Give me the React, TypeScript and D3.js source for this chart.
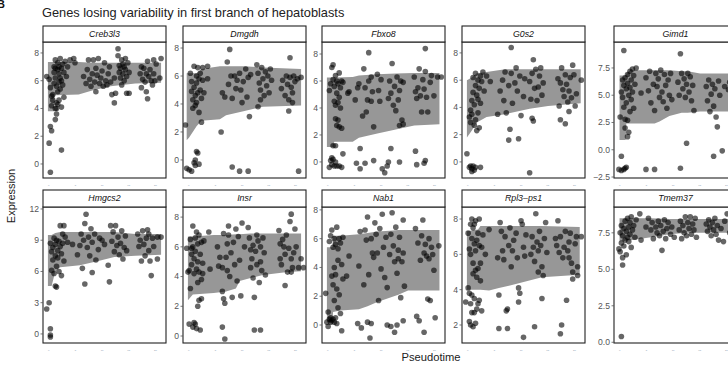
import * as d3 from "d3"

type Pt = [number, number];
type Band = [number, number, number]; // x, lower, upper

const TITLE = "Genes losing variability in first branch of hepatoblasts";
const GENES = ["Creb3l3", "Dmgdh", "Fbxo8", "G0s2", "Gimd1", "Hmgcs2", "Insr", "Nab1", "Rpl3\u2013ps1", "Tmem37"];

// y-domain of every facet (free scales)
const Y_DOMAINS: [number, number][] = [
  [-1.01, 8.79], [-1.29, 8.43], [-1.19, 8.89], [-1.18, 8.8], [-2.59, 9.88],
  [-0.87, 12.19], [-0.47, 8.68], [-1.25, 8.2], [0.98, 8.68], [-0.05, 9.27],
];
const Y_TICKS: number[][] = [
  [0, 2, 4, 6, 8], [0, 2, 4, 6, 8], [0, 2, 4, 6, 8], [0, 2, 4, 6, 8], [-2.5, 0, 2.5, 5, 7.5],
  [0, 3, 6, 9, 12], [0, 2, 4, 6, 8], [0, 2, 4, 6, 8], [2, 4, 6, 8], [0, 2.5, 5, 7.5],
];
const X_TICKS = [0.46, 2.63, 4.8, 6.97, 9.14];
const X_TICK_LABELS = ["0", "5", "10", "15", "20"];

// ribbons (pseudotime, lower, upper)
const creb3l3Band: Band[] = [[0.4, 3.8, 7.35], [0.9, 3.8, 7.35], [0.95, 4.95, 7.35], [2.9, 5.0, 7.35], [4.0, 5.3, 7.3], [5.5, 5.6, 7.3], [7.5, 5.8, 7.3], [9.6, 5.85, 7.3]];
const dmgdhBand: Band[] = [[0.3, 1.4, 6.2], [0.5, 1.6, 6.2], [1.1, 2.4, 6.2], [1.5, 2.8, 6.5], [3.0, 2.9, 6.7], [3.5, 3.2, 6.7], [5.0, 3.5, 6.7], [6.5, 3.8, 6.6], [9.6, 3.9, 6.5]];
const fbxo8Band: Band[] = [[0.4, 1.1, 6.25], [0.9, 1.1, 6.25], [1.0, 1.5, 6.25], [2.5, 1.5, 6.3], [3.0, 1.8, 6.4], [4.5, 2.1, 6.5], [6.0, 2.4, 6.55], [7.5, 2.7, 6.6], [9.55, 2.8, 6.6]];
const g0s2Band: Band[] = [[0.4, 1.8, 6.0], [0.8, 2.3, 6.2], [1.2, 2.9, 6.5], [2.0, 3.3, 6.6], [3.5, 3.5, 6.8], [5.5, 3.9, 6.8], [7.0, 4.1, 6.8], [9.65, 4.3, 6.8]];
const gimd1Band: Band[] = [[0.45, 0.9, 6.8], [0.95, 0.9, 6.8], [1.0, 2.4, 7.0], [1.3, 2.4, 7.3], [3.3, 2.4, 7.3], [3.7, 2.6, 7.3], [4.5, 3.1, 7.3], [5.5, 3.4, 7.2], [6.0, 3.4, 7.2], [7.0, 3.5, 7.0], [9.6, 3.5, 7.0]];
const hmgcs2Band: Band[] = [[0.4, 4.6, 9.5], [0.7, 4.6, 9.5], [1.0, 6.0, 9.7], [1.4, 6.4, 9.8], [3.0, 6.6, 9.8], [4.5, 7.0, 9.8], [5.8, 7.4, 9.8], [7.5, 7.5, 9.6], [9.6, 7.6, 9.6]];
const insrBand: Band[] = [[0.4, 2.4, 6.7], [0.8, 2.8, 6.7], [2.5, 2.9, 6.8], [3.5, 3.0, 6.8], [4.3, 3.2, 6.85], [4.6, 3.7, 6.85], [5.5, 3.9, 6.9], [6.5, 4.1, 6.9], [8.5, 4.3, 6.9], [9.6, 4.35, 6.9]];
const nab1Band: Band[] = [[0.4, 0.2, 5.4], [0.85, 0.2, 5.4], [0.9, 0.9, 6.2], [1.5, 1.0, 6.2], [3.0, 1.1, 6.3], [3.7, 1.3, 6.4], [4.5, 1.6, 6.5], [5.5, 1.9, 6.55], [6.2, 2.1, 6.6], [7.0, 2.4, 6.6], [9.55, 2.4, 6.6]];
const rpl3Band: Band[] = [[0.4, 4.0, 7.3], [1.3, 4.0, 7.4], [1.5, 4.0, 7.6], [2.2, 3.95, 7.6], [3.0, 4.1, 7.6], [4.3, 4.3, 7.6], [5.4, 4.5, 7.6], [6.5, 4.7, 7.6], [9.57, 4.85, 7.55]];
const tmem37Band: Band[] = [[0.45, 6.9, 8.5], [1.5, 7.0, 8.5], [3.0, 7.2, 8.5], [4.5, 7.4, 8.45], [6.0, 7.5, 8.45], [9.6, 7.5, 8.45]];

// cells (pseudotime, expression)
const creb3l3Pts: Pt[] = [
  [0.3, 6.3], [0.5, 6.1], [0.6, 5.5], [0.7, 4.9], [0.7, 4.2], [0.8, 4.6], [0.8, 5.0], [0.9, 5.8], [0.9, 6.6], [0.9, 7.0], [1.0, 7.5], [1.0, 6.9], [1.0, 6.2], [1.1, 5.6], [1.1, 4.4], [1.1, 4.0], [1.2, 7.3], [1.2, 6.8], [1.2, 5.2], [1.2, 4.3], [1.3, 7.0], [1.3, 6.5], [1.3, 5.9], [1.3, 4.6], [1.4, 7.6], [1.4, 6.2], [1.4, 5.4], [1.5, 6.9], [1.5, 6.0], [1.5, 4.1], [1.6, 7.2], [1.6, 5.7], [1.7, 6.6], [1.7, 4.8], [1.8, 7.4], [1.9, 6.3], [2.0, 7.0], [2.2, 7.5], [2.5, 7.6], [2.6, 7.3],
  [0.5, 1.5], [0.6, 2.7], [0.7, 2.4], [1.0, 3.2], [1.1, 3.6], [1.0, 4.0], [1.5, 1.0], [0.6, -0.6],
  [3.3, 6.3], [3.5, 5.8], [3.6, 6.8], [3.7, 7.5], [3.8, 6.1], [3.9, 5.6], [4.0, 6.5], [4.1, 7.5], [4.2, 5.9], [4.3, 6.9], [4.3, 5.2], [4.4, 6.4], [4.5, 7.6], [4.6, 5.8], [4.7, 6.2], [4.8, 6.7], [4.9, 5.6], [5.0, 7.3], [5.1, 6.0], [5.2, 5.7], [5.3, 6.5], [5.4, 7.0], [5.5, 5.9], [5.6, 5.0], [5.8, 4.4], [5.8, 6.2], [5.9, 5.1],
  [6.1, 8.3], [6.1, 7.8], [6.2, 7.1], [6.2, 6.6], [6.3, 6.9], [6.3, 6.2], [6.4, 7.5], [6.4, 5.7], [6.5, 7.2], [6.5, 6.5], [6.6, 7.0], [6.6, 6.0], [6.7, 7.6], [6.7, 6.8], [6.8, 6.3], [6.8, 5.1], [6.9, 7.3], [7.0, 6.6], [7.0, 5.1],
  [7.9, 6.5], [8.0, 5.5], [8.0, 7.0], [8.1, 6.1], [8.2, 6.9], [8.3, 5.9], [8.4, 6.5], [8.5, 7.4], [8.5, 4.7], [8.6, 6.3], [8.7, 6.8], [8.8, 6.0], [8.9, 5.7], [9.0, 7.5], [9.0, 6.5], [9.2, 7.2], [9.5, 6.2], [9.6, 7.6], [9.1, 6.0], [8.4, 5.2],
];
const dmgdhPts: Pt[] = [
  [0.3, -0.6], [0.5, -0.7], [0.7, -0.8], [0.9, -0.2], [1.0, -0.4], [1.1, 0.6], [1.2, 0.5], [1.0, 0.0], [1.3, -0.3],
  [0.2, 2.5], [3.1, 2.0], [3.8, 7.9], [4.0, -0.5], [4.6, -0.8], [5.3, -0.8], [5.4, 3.1], [9.4, -0.8], [8.7, 7.3], [6.1, 3.8], [8.6, 3.5],
  [0.6, 6.2], [0.7, 5.6], [0.7, 4.9], [0.8, 4.3], [0.8, 3.7], [0.9, 6.7], [0.9, 5.2], [1.0, 4.6], [1.0, 3.9], [1.1, 6.0], [1.1, 5.5], [1.1, 4.1], [1.2, 6.6], [1.2, 4.8], [1.3, 5.8], [1.3, 3.4], [1.4, 6.2], [1.4, 5.0], [1.5, 4.4], [1.5, 2.7], [1.6, 5.7], [1.6, 6.6], [1.7, 4.8], [2.0, 5.8], [2.0, 6.7],
  [3.2, 4.8], [3.4, 4.5], [3.6, 7.0], [3.7, 5.4], [3.9, 6.0], [4.0, 4.4], [4.2, 6.0], [4.3, 5.1], [4.4, 5.7], [4.6, 6.2], [4.7, 5.0], [4.8, 4.1], [4.9, 5.6], [5.1, 6.5], [5.2, 4.5], [5.3, 5.9], [5.5, 6.1],
  [6.0, 6.8], [6.1, 6.2], [6.2, 5.5], [6.3, 5.0], [6.3, 4.3], [6.4, 6.6], [6.5, 5.8], [6.6, 4.6], [6.7, 6.3], [6.8, 5.3], [6.9, 6.0], [7.0, 4.8], [7.1, 6.5], [7.2, 5.7],
  [8.0, 5.1], [8.1, 5.7], [8.3, 4.6], [8.4, 6.0], [8.5, 5.4], [8.6, 4.3], [8.7, 5.9], [8.8, 5.2], [8.9, 4.8], [9.0, 6.0], [9.1, 5.6], [9.3, 5.8], [9.6, 5.9], [8.9, 4.1],
];
const fbxo8Pts: Pt[] = [
  [0.6, 5.3], [0.7, 5.8], [0.8, 7.0], [0.9, 7.2], [0.9, 6.1], [1.0, 5.6], [1.0, 4.5], [1.1, 6.4], [1.1, 4.2], [1.1, 3.2], [1.2, 6.0], [1.2, 5.1], [1.2, 2.7], [1.3, 5.8], [1.3, 4.4], [1.3, 3.1], [1.4, 6.6], [1.4, 4.8], [1.4, 2.6], [1.5, 5.5], [1.5, 4.0], [1.6, 6.0], [1.6, 2.5], [1.7, 5.9], [0.9, 1.2], [1.1, 1.2], [1.7, 0.6],
  [0.6, -0.4], [0.7, 0.1], [0.8, -0.2], [0.9, 0.2], [1.0, -0.3], [1.1, 0.0], [1.2, -0.3], [1.4, -0.3], [1.6, -0.4], [0.8, 0.3],
  [2.1, 5.1], [2.2, 5.2], [2.7, 4.6], [2.9, 5.5], [3.1, 1.0], [2.8, -0.1], [3.1, -0.5], [3.5, -0.1],
  [3.0, 5.8], [3.3, 3.4], [3.4, 6.9], [3.5, 5.5], [3.6, 3.7], [3.7, 4.6], [3.8, 6.0], [3.8, 8.1], [4.0, 4.5], [4.0, 6.3], [4.1, 5.2], [4.2, 2.6], [4.2, 0.1], [4.5, 6.5], [4.6, 5.3], [4.7, 4.5], [4.8, 6.1], [4.9, -0.5], [5.1, -0.8], [5.3, -0.3],
  [5.4, 4.7], [5.5, 6.0], [5.6, 5.1], [5.7, 7.3], [5.8, 4.2], [5.9, 5.6], [6.0, 3.8], [6.1, 6.3], [6.2, 4.6], [6.3, 5.3], [6.3, 2.7], [6.4, 6.0], [6.5, 3.1], [6.6, 5.9], [6.6, 2.8], [5.6, 1.0], [5.4, 0.0], [6.3, 0.0],
  [7.5, 6.3], [7.6, 5.2], [7.7, 4.7], [7.8, 5.5], [7.9, 6.9], [8.0, 4.9], [8.1, 3.7], [8.2, 6.1], [8.3, 5.4], [8.4, 8.4], [8.4, 6.7], [8.5, 4.8], [8.6, 3.7], [8.8, 5.9], [8.9, 6.4], [9.1, 4.9], [9.4, 6.3], [9.7, 6.3], [7.6, 0.8], [7.7, -0.2], [8.3, -0.1], [8.4, 0.1],
];
const g0s2Pts: Pt[] = [
  [0.4, 0.6], [0.6, -0.4], [0.7, -0.3], [0.8, -0.5], [0.8, -0.7], [0.9, -0.3], [1.0, -0.6], [1.1, -0.4], [1.5, -0.4],
  [0.6, 3.3], [0.7, 3.8], [0.7, 2.9], [0.8, 4.5], [0.8, 3.5], [0.9, 6.2], [0.9, 5.1], [1.0, 4.2], [1.0, 2.7], [1.1, 6.5], [1.1, 5.6], [1.1, 3.1], [1.2, 4.9], [1.2, 2.3], [1.3, 6.0], [1.3, 4.6], [1.3, 3.6], [1.4, 5.4], [1.4, 2.5], [1.5, 6.3], [1.5, 4.3], [1.6, 5.9], [1.7, 6.6], [1.8, 5.2], [2.0, 6.3], [2.3, 5.9],
  [2.9, 3.5], [3.1, 5.2], [3.3, 6.0], [3.4, 4.5], [3.5, 6.6], [3.6, 3.6], [3.8, 5.6], [3.8, 1.6], [3.9, 2.4], [4.0, 6.5], [4.0, 8.4], [4.1, 4.3], [4.3, 5.8], [4.4, 6.9], [4.5, 5.2], [4.6, 1.7], [4.7, 6.3], [4.8, 3.4], [5.0, 4.8], [5.1, 6.1],
  [5.5, 5.9], [5.6, 4.6], [5.7, 6.5], [5.8, 3.0], [5.8, 7.5], [5.9, 5.4], [6.0, 6.8], [6.1, 4.5], [6.2, 5.5], [6.3, 6.3], [6.4, 6.9], [6.5, 4.9], [6.6, 5.8], [5.5, -0.8], [5.7, 3.2],
  [7.8, 6.1], [7.9, 4.1], [8.0, 5.8], [8.0, 3.1], [8.1, 6.9], [8.2, 5.3], [8.3, 4.8], [8.4, 6.4], [8.4, 2.8], [8.5, 5.7], [8.6, 4.4], [8.7, 5.2], [8.8, 6.2], [8.9, 4.7], [9.0, 7.1], [9.1, 6.4], [9.2, 4.1], [9.3, 5.0], [9.7, 6.0], [8.7, 3.7],
];
const gimd1Pts: Pt[] = [
  [0.5, 3.0], [0.6, 5.3], [0.7, 6.4], [0.7, 4.8], [0.8, 5.9], [0.8, 3.9], [0.9, 6.6], [0.9, 2.8], [0.9, 2.0], [1.0, 5.6], [1.0, 4.3], [1.1, 6.9], [1.1, 6.1], [1.1, 2.7], [1.2, 5.0], [1.2, 1.6], [1.3, 7.2], [1.3, 5.7], [1.3, 3.5], [1.4, 6.4], [1.4, 4.6], [1.5, 7.4], [1.5, 5.3], [1.6, 6.8], [1.6, 3.8], [1.7, 6.0], [1.8, 7.5], [1.1, 1.2],
  [0.6, -0.6], [0.4, -1.8], [0.6, -1.9], [0.8, -1.8], [0.9, -1.7], [1.0, -1.6], [0.8, 9.1], [2.2, 5.2],
  [2.6, 6.6], [2.8, 5.4], [2.9, 7.2], [3.0, 4.3], [3.2, 6.0], [3.3, 3.6], [3.4, 7.0], [3.5, 5.8], [3.6, 6.5], [3.7, 4.8], [3.8, 7.3], [3.9, 5.3], [4.0, 4.4], [4.1, 6.9], [4.2, 5.9], [4.3, 3.8], [4.4, 6.4], [4.5, 5.0], [4.6, 7.0], [4.7, 4.6], [2.6, -1.8], [3.3, -1.8],
  [5.2, 6.2], [5.3, 5.0], [5.4, 8.8], [5.5, 7.0], [5.6, 5.6], [5.7, 6.5], [5.8, 4.8], [5.9, 6.0], [6.0, 7.0], [6.1, 5.3], [6.2, 6.7], [6.3, 4.5], [6.4, 5.9], [6.5, 3.6], [5.9, 0.6], [5.4, -1.7],
  [7.5, 5.8], [7.6, 4.5], [7.7, 6.4], [7.8, 3.5], [7.9, 5.1], [8.0, 6.0], [8.1, 4.0], [8.2, 5.6], [8.3, 3.0], [8.4, 2.1], [8.5, 6.3], [8.6, 5.0], [8.1, -0.6], [8.8, -0.1], [9.0, 5.8], [9.3, 5.5], [9.5, 4.5], [9.7, -0.2], [9.4, 6.2], [9.8, 3.3],
];
const hmgcs2Pts: Pt[] = [
  [0.3, 2.4], [0.5, 3.0], [0.6, 0.5], [0.6, -0.1], [0.6, -0.3], [0.6, 8.7], [0.7, 7.9], [0.7, 6.1], [0.8, 8.3], [0.8, 7.1], [0.9, 9.2], [0.9, 5.8], [1.0, 8.6], [1.0, 7.5], [1.0, 4.6], [1.1, 9.0], [1.1, 6.5], [1.1, 4.5], [1.2, 8.0], [1.2, 7.3], [1.3, 8.9], [1.3, 6.0], [1.4, 10.4], [1.4, 8.4], [1.5, 7.7], [1.5, 5.6], [1.6, 9.6], [1.6, 8.7], [1.7, 10.4], [1.7, 7.0], [1.8, 9.3], [2.0, 8.8], [2.4, 8.6],
  [2.8, 7.6], [3.0, 8.5], [3.1, 9.6], [3.2, 6.3], [3.3, 9.0], [3.4, 4.8], [3.4, 10.6], [3.5, 11.5], [3.6, 8.3], [3.7, 9.3], [3.8, 7.5], [3.9, 10.1], [4.0, 8.8], [4.0, 5.9], [4.2, 9.6], [4.3, 7.1], [4.5, 8.1], [4.6, 9.2], [4.8, 9.0], [5.0, 8.6],
  [5.3, 6.6], [5.4, 5.0], [5.5, 10.4], [5.6, 8.9], [5.7, 9.8], [5.8, 7.9], [5.9, 10.4], [6.0, 8.5], [6.1, 9.3], [6.2, 7.6], [6.3, 8.7], [6.4, 9.9], [6.5, 7.2], [6.6, 8.3], [6.7, 9.4], [6.8, 8.0],
  [7.7, 9.6], [7.8, 8.4], [7.9, 9.0], [8.0, 7.0], [8.1, 9.9], [8.2, 8.6], [8.3, 7.5], [8.4, 9.2], [8.5, 10.0], [8.6, 8.0], [8.7, 7.0], [8.8, 5.6], [8.9, 9.2], [9.0, 8.4], [9.3, 9.3], [9.3, 7.2], [9.6, 9.3], [8.6, 9.6],
];
const insrPts: Pt[] = [
  [0.3, 5.9], [0.5, 4.4], [0.5, 0.8], [0.6, 3.2], [0.6, 6.5], [0.7, 5.5], [0.7, 4.8], [0.8, 7.4], [0.8, 6.0], [0.8, 0.6], [0.9, 5.2], [0.9, 4.2], [0.9, 0.9], [1.0, 6.6], [1.0, 5.7], [1.0, 0.8], [1.1, 7.0], [1.1, 4.5], [1.1, 0.5], [1.2, 6.2], [1.2, 5.0], [1.2, 2.0], [1.3, 6.8], [1.3, 4.3], [1.3, 2.4], [1.4, 5.5], [1.4, 0.4], [1.5, 6.3], [1.5, 3.8], [1.5, 2.5], [1.6, 4.9], [1.7, 6.4], [1.2, 3.6], [1.6, 4.2], [2.1, 7.0], [2.2, 4.5], [0.4, 4.3], [0.7, 5.9],
  [2.8, 6.0], [2.9, 4.7], [3.0, 5.3], [3.2, 3.0], [3.2, 4.6], [3.3, 6.9], [3.3, 2.5], [3.4, 2.2], [3.5, 5.3], [3.6, 4.4], [3.6, 6.2], [3.7, 7.4], [3.7, 6.8], [3.8, 4.0], [3.9, 5.6], [4.0, 2.6], [4.1, 6.3], [4.2, 4.8], [4.3, 7.2], [4.4, 3.7], [4.5, 6.7], [4.6, 5.1], [4.7, 2.7], [4.8, 7.6], [5.0, 6.0], [3.2, 0.6], [3.4, -0.2],
  [5.3, 7.3], [5.4, 6.6], [5.5, 5.8], [5.5, 4.6], [5.6, 5.2], [5.7, 6.1], [5.7, 3.9], [5.8, 2.6], [5.9, 5.7], [6.0, 4.8], [6.0, 6.8], [6.1, 6.4], [6.2, 3.6], [6.3, 5.0], [6.3, 6.0], [6.4, 4.4], [6.5, 6.6], [6.6, 5.6], [6.7, 4.1], [5.8, 0.4], [6.3, 0.4],
  [7.8, 7.1], [7.9, 6.2], [7.9, 5.2], [8.0, 4.8], [8.1, 6.5], [8.2, 6.0], [8.3, 3.4], [8.3, 5.5], [8.4, 6.8], [8.5, 4.3], [8.6, 5.9], [8.7, 7.7], [8.8, 8.2], [8.8, 5.2], [8.9, 4.6], [9.0, 5.6], [9.1, 7.2], [9.2, 6.0], [9.4, 4.6], [9.6, 5.2], [9.8, 4.6], [8.8, 4.3],
];
const nab1Pts: Pt[] = [
  [0.3, 2.2], [0.4, 0.2], [0.5, 0.9], [0.5, -0.1], [0.6, 0.4], [0.6, 5.8], [0.7, 0.2], [0.7, 6.2], [0.7, 0.5], [0.8, 3.4], [0.8, 0.3], [0.8, 6.6], [0.9, 5.4], [0.9, 0.4], [0.9, 2.8], [1.0, 6.0], [1.0, 4.0], [1.0, 0.2], [1.1, 5.6], [1.1, 3.5], [1.1, 0.5], [1.2, 6.8], [1.2, 2.5], [1.2, 0.1], [1.3, 5.3], [1.3, 4.5], [1.3, 1.2], [1.4, 6.0], [1.4, 2.1], [1.5, 0.8], [1.5, 5.7], [1.6, 4.2], [1.6, -0.4], [1.7, 6.1], [1.7, 3.2], [2.0, 3.4], [2.2, 4.8], [1.0, 1.7],
  [2.9, 0.1], [3.0, 4.1], [3.1, 6.5], [3.2, -0.2], [3.4, 2.8], [3.5, 6.6], [3.6, 5.9], [3.7, 7.5], [3.7, 0.2], [3.8, 3.5], [3.9, -0.9], [4.0, 6.0], [4.0, 0.1], [4.1, 5.0], [4.2, 4.7], [4.3, 7.1], [4.4, 6.3], [4.5, 5.0], [4.6, 1.7], [4.7, 6.7], [4.8, 3.9], [4.9, 7.7], [5.0, 5.4], [5.1, 3.3], [5.2, 6.1], [5.3, 2.6], [5.3, 0.0],
  [5.5, 4.9], [5.6, 6.3], [5.6, -0.1], [5.7, 7.8], [5.8, 5.5], [5.9, 4.4], [5.9, -0.5], [6.0, 6.8], [6.1, 3.6], [6.1, 0.0], [6.2, 5.2], [6.3, 6.1], [6.4, 1.9], [6.5, 4.4], [6.6, 7.3], [6.6, 5.0], [6.7, 2.7], [6.6, 0.3], [6.2, 4.6],
  [7.6, 6.7], [7.7, 0.6], [7.8, 5.7], [7.9, 0.3], [8.0, 4.5], [8.1, 6.2], [8.2, 7.3], [8.3, -0.5], [8.4, 5.6], [8.5, 4.8], [8.6, 1.8], [8.7, 6.0], [8.8, 1.7], [8.9, 5.4], [9.0, 4.9], [9.1, 3.8], [9.2, 0.5], [9.5, 5.5], [8.3, 5.0], [8.7, 4.6],
];
const rpl3Pts: Pt[] = [
  [0.3, 3.3], [0.5, 7.2], [0.5, 4.1], [0.6, 6.3], [0.6, 3.8], [0.6, 2.2], [0.7, 7.7], [0.7, 6.0], [0.7, 3.2], [0.7, 2.0], [0.8, 8.0], [0.8, 6.9], [0.8, 3.7], [0.8, 2.7], [0.9, 7.5], [0.9, 5.5], [0.9, 4.9], [0.9, 1.9], [1.0, 7.7], [1.0, 6.6], [1.0, 3.5], [1.0, 2.7], [1.1, 7.9], [1.1, 6.2], [1.1, 5.1], [1.1, 2.1], [1.2, 6.8], [1.2, 4.7], [1.2, 2.9], [1.3, 7.2], [1.3, 5.2], [1.3, 3.2], [1.4, 8.0], [1.4, 6.5], [1.4, 3.4], [1.5, 5.5], [1.5, 4.5], [1.6, 6.4], [1.6, 2.8], [1.7, 7.1], [1.9, 6.0], [2.2, 7.4],
  [2.9, 5.8], [3.0, 3.7], [3.0, 1.8], [3.1, 7.8], [3.2, 7.3], [3.3, 6.2], [3.4, 5.7], [3.5, 7.0], [3.6, 2.8], [3.7, 2.9], [3.7, 1.8], [3.8, 6.5], [3.9, 7.5], [4.0, 5.3], [4.1, 6.2], [4.2, 6.8], [4.4, 7.2], [4.5, 5.8], [4.6, 4.1], [4.6, 3.3], [4.7, 3.8], [4.8, 7.9], [4.9, 7.7], [5.0, 6.4], [5.0, 1.3], [5.1, 5.9], [5.2, 7.1],
  [5.6, 6.0], [5.7, 7.0], [5.8, 6.4], [5.9, 5.6], [5.9, 1.9], [6.0, 8.3], [6.1, 6.7], [6.2, 6.2], [6.2, 5.0], [6.3, 7.3], [6.4, 6.5], [6.5, 5.3], [6.5, 3.5], [6.6, 4.8], [6.7, 6.9], [6.8, 7.8], [6.9, 6.1],
  [7.6, 6.9], [7.7, 6.5], [7.8, 7.9], [7.9, 6.1], [8.0, 1.5], [8.0, 7.0], [8.1, 2.0], [8.2, 5.8], [8.3, 6.4], [8.4, 7.3], [8.5, 3.4], [8.6, 6.2], [8.7, 5.8], [8.8, 7.2], [8.9, 5.5], [9.0, 5.0], [9.0, 4.6], [9.2, 6.6], [9.3, 7.0], [9.4, 5.3], [9.4, 4.8], [9.7, 7.0], [8.7, 6.7],
];
const tmem37Pts: Pt[] = [
  [0.4, 6.4], [0.5, 6.2], [0.5, 7.5], [0.6, 6.8], [0.6, 8.0], [0.7, 7.3], [0.7, 5.8], [0.7, 5.3], [0.8, 7.8], [0.8, 6.6], [0.9, 8.3], [0.9, 7.0], [1.0, 7.6], [1.0, 6.0], [1.1, 8.5], [1.1, 7.2], [1.2, 7.9], [1.2, 6.9], [1.3, 8.2], [1.3, 7.4], [1.4, 8.6], [1.4, 6.5], [1.5, 7.7], [1.6, 8.0], [1.7, 7.2], [1.8, 8.4], [0.6, 0.4],
  [2.1, 8.8], [2.2, 7.0], [2.6, 7.9], [2.8, 8.5], [3.0, 7.7], [3.1, 8.2], [3.2, 7.1], [3.4, 7.9], [3.5, 7.5], [3.6, 8.3], [3.7, 7.3], [3.8, 8.0], [3.9, 6.3], [4.0, 7.6], [4.1, 8.4], [4.2, 7.1], [4.3, 7.8], [4.4, 8.2], [4.6, 7.4], [4.7, 7.9], [4.9, 7.2],
  [5.3, 7.7], [5.4, 8.3], [5.5, 7.1], [5.6, 8.0], [5.7, 7.5], [5.8, 8.6], [5.9, 7.3], [6.0, 8.2], [6.1, 7.8], [6.2, 8.6], [6.3, 7.4], [6.4, 8.1], [6.5, 7.7], [6.6, 8.5], [6.7, 7.2],
  [7.5, 8.1], [7.6, 7.6], [7.7, 8.4], [7.8, 7.9], [7.9, 7.3], [8.0, 8.2], [8.1, 7.7], [8.2, 8.5], [8.3, 7.4], [8.4, 8.0], [8.5, 7.0], [8.7, 7.8], [8.9, 6.9], [9.2, 8.8], [9.0, 8.3], [9.4, 7.5],
];

const BANDS = [creb3l3Band, dmgdhBand, fbxo8Band, g0s2Band, gimd1Band, hmgcs2Band, insrBand, nab1Band, rpl3Band, tmem37Band];
const POINTS = [creb3l3Pts, dmgdhPts, fbxo8Pts, g0s2Pts, gimd1Pts, hmgcs2Pts, insrPts, nab1Pts, rpl3Pts, tmem37Pts];

const W = 728, H = 365;
const COL_LEFT = [43, 183, 322, 462, 614];
const PANEL_W = 123;
const STRIP_TOP = [26, 190];
const PLOT_TOP = [42, 207];
const PLOT_BOTTOM = [178, 343];
const FONT = "Liberation Sans, Arial, sans-serif";

function Facet({ i }: { i: number }) {
  const row = Math.floor(i / 5), col = i % 5;
  const left = COL_LEFT[col];
  const x = d3.scaleLinear().domain([0, 10]).range([left, left + PANEL_W]);
  const y = d3.scaleLinear().domain(Y_DOMAINS[i]).range([PLOT_BOTTOM[row], PLOT_TOP[row]]);
  const area = d3.area<Band>().x(d => x(d[0])).y0(d => y(d[1])).y1(d => y(d[2]));
  const fmt = col === 4 ? d3.format(".1f") : d3.format("d");
  const clipId = `clip${i}`;
  return (
    <g>
      <clipPath id={clipId}>
        <rect x={left} y={PLOT_TOP[row]} width={PANEL_W} height={PLOT_BOTTOM[row] - PLOT_TOP[row]} />
      </clipPath>
      <g clipPath={`url(#${clipId})`}>
        <path d={area(BANDS[i]) || ""} fill="#979797" />
        {POINTS[i].map((p, k) => (
          <circle key={k} cx={x(p[0])} cy={y(p[1])} r={2.8} fill="#000" fillOpacity={0.6} />
        ))}
      </g>
      <rect x={left} y={PLOT_TOP[row]} width={PANEL_W} height={PLOT_BOTTOM[row] - PLOT_TOP[row]} fill="none" stroke="#222" strokeWidth={1.1} />
      <rect x={left} y={STRIP_TOP[row]} width={PANEL_W} height={PLOT_TOP[row] - STRIP_TOP[row]} fill="#fff" stroke="#222" strokeWidth={1.1} />
      <text x={left + PANEL_W / 2} y={STRIP_TOP[row] + 11.3} textAnchor="middle" fontSize={8.8} fontStyle="italic" fill="#111" fontFamily={FONT}>{GENES[i]}</text>
      {Y_TICKS[i].map(t => (
        <g key={t} transform={`translate(${left},${y(t)})`}>
          <line x1={-2.5} x2={0} stroke="#555" strokeWidth={0.8} />
          <text x={-4} dy="0.34em" textAnchor="end" fontSize={8.6} fill="#555" fontFamily={FONT}>{fmt(t)}</text>
        </g>
      ))}
      {X_TICKS.map((t, k) => (
        <text key={k} x={x(t)} y={PLOT_BOTTOM[row] + 7.5} textAnchor="middle" fontSize={2.5} fill="#8a9ab0" fontFamily={FONT}>{X_TICK_LABELS[k]}</text>
      ))}
    </g>
  );
}

export default function App() {
  return (
    <svg width={W} height={H} style={{ position: "absolute", left: 0, top: 0, background: "#fff" }}>
      <rect width={W} height={H} fill="#fff" />
      <text x={-3} y={8} fontSize={11} fontWeight="bold" fill="#111" fontFamily={FONT}>B</text>
      <text x={42} y={17} fontSize={12.8} fill="#222" fontFamily={FONT}>{TITLE}</text>
      {GENES.map((_, i) => <Facet key={i} i={i} />)}
      <text transform="translate(15,196) rotate(-90)" textAnchor="middle" fontSize={11} fill="#222" fontFamily={FONT}>Expression</text>
      <text x={431} y={361} textAnchor="middle" fontSize={11.2} fill="#222" fontFamily={FONT}>Pseudotime</text>
    </svg>
  );
}
